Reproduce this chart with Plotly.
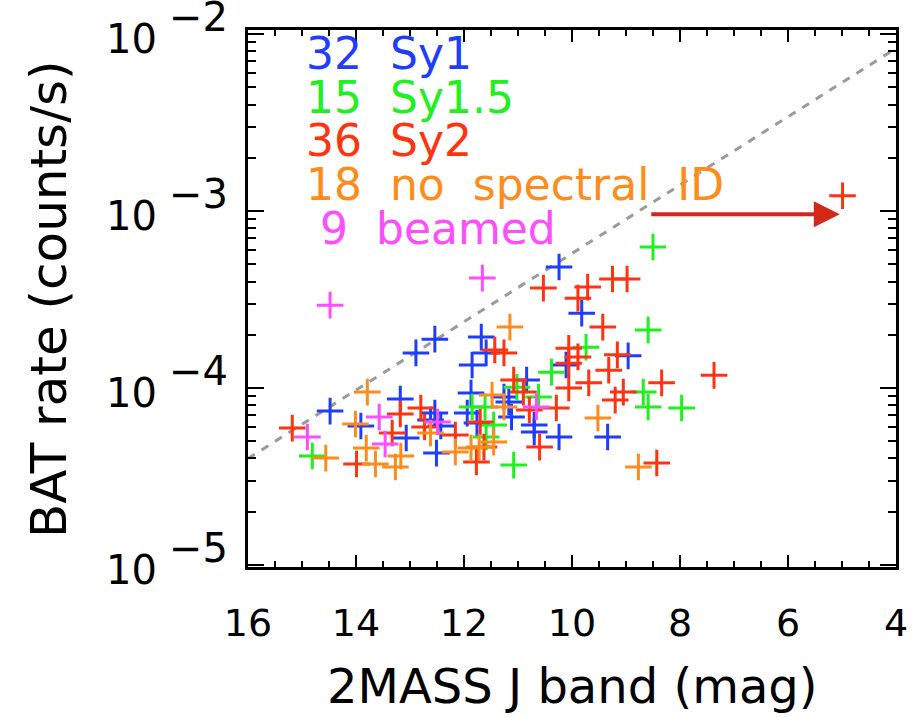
import numpy as np
import plotly.graph_objects as go

# ---------------- data (J mag, BAT rate counts/s) ----------------
sy1_mag = [10.24, 12.89, 12.54, 14.48, 13.18, 13.91, 13.07, 12.54, 12.62, 12.43,
           12.51, 11.85, 11.68, 11.59, 11.87, 11.94, 11.76, 11.26, 11.17, 10.84,
           11.12, 10.11, 10.70, 10.70, 10.24, 9.82, 8.96, 9.34]
sy1_rate = [4.83e-4, 1.58e-4, 1.89e-4, 7.41e-5, 8.67e-5, 6.10e-5, 5.22e-5, 7.22e-5, 6.59e-5, 6.10e-5,
            4.29e-5, 1.35e-4, 1.94e-4, 1.58e-4, 9.37e-5, 7.22e-5, 6.34e-5, 8.90e-5, 8.34e-5, 1.11e-4,
            6.86e-5, 1.35e-4, 6.18e-5, 5.64e-5, 5.29e-5, 2.65e-4, 1.52e-4, 5.29e-5]

sy15_mag = [8.50, 14.81, 11.85, 11.61, 11.02, 10.62, 10.38, 11.45, 11.59, 11.08,
            8.59, 9.74, 8.68, 8.59, 7.97]
sy15_rate = [6.26e-4, 4.13e-5, 7.81e-5, 7.81e-5, 1.01e-4, 8.90e-5, 1.23e-4, 6.18e-5, 5.29e-5, 3.67e-5,
             2.13e-4, 1.70e-4, 9.49e-5, 7.81e-5, 7.71e-5]

sy2_mag = [4.99, 10.53, 15.18, 13.99, 13.18, 12.80, 13.33, 12.73, 12.16, 11.43,
           11.26, 11.70, 11.08, 10.90, 10.79, 10.29, 10.06, 10.06, 10.06, 10.60,
           11.63, 11.77, 9.71, 9.89, 9.25, 8.98, 9.43, 9.89, 9.16, 9.32,
           9.69, 7.37, 8.34, 9.05, 9.20, 8.43]
sy2_rate = [1.22e-3, 3.67e-4, 5.94e-5, 3.72e-5, 7.13e-5, 7.71e-5, 5.57e-5, 6.02e-5, 5.43e-5, 1.64e-4,
            1.58e-4, 6.43e-5, 1.11e-4, 9.49e-5, 7.51e-5, 7.71e-5, 1.00e-4, 1.38e-4, 1.68e-4, 4.64e-5,
            4.64e-5, 3.82e-5, 3.72e-4, 3.22e-4, 4.13e-4, 4.13e-4, 2.21e-4, 1.50e-4, 1.54e-4, 1.26e-4,
            1.07e-4, 1.18e-4, 1.07e-4, 9.49e-5, 8.55e-5, 3.77e-5]

noid_mag = [13.79, 14.56, 14.01, 13.81, 13.64, 13.17, 13.27, 12.62, 12.16, 11.15,
            11.48, 11.26, 11.72, 11.45, 9.52, 8.77, 11.87]
noid_rate = [9.49e-5, 4.02e-5, 6.26e-5, 4.58e-5, 3.72e-5, 4.13e-5, 3.58e-5, 5.57e-5, 4.35e-5, 2.21e-4,
             9.13e-5, 7.81e-5, 4.64e-5, 4.95e-5, 6.77e-5, 3.58e-5, 4.58e-5]

beam_mag = [14.48, 11.66, 14.90, 13.57, 13.46, 12.49, 10.66]
beam_rate = [2.94e-4, 4.18e-4, 5.29e-5, 6.86e-5, 4.83e-5, 6.43e-5, 7.81e-5]

line_mag = [16.0, 4.0]
line_rate = [4.0e-5, 8.3e-3]

arrow_mag = [8.56, 5.04]
arrow_rate = 9.6e-4

legend_labels = ["32  Sy1", "15  Sy1.5", "36  Sy2", "18  no  spectral  ID", " 9  beamed"]

x_ticks = [16, 14, 12, 10, 8, 6, 4]
y_ticks = [1e-5, 1e-4, 1e-3, 1e-2]
y_tick_exp = ["−5", "−4", "−3", "−2"]

# ---------------- styles ----------------
C_SY1 = "#1f3dff"
C_SY15 = "#1ff01f"
C_SY2 = "#ff3310"
C_NOID = "#ff8c1a"
C_BEAM = "#ff4cff"
C_ARROW = "#d2281a"
FONT = "DejaVu Sans"

L, R, T, B = 248, 16, 30, 150
W, H = 920, 717
PW, PH = W - L - R, H - T - B


def px_x(p):  # pixel -> paper x
    return (p - L) / PW


def px_y(p):  # pixel -> paper y
    return (H - B - p) / PH


fig = go.Figure()

fig.add_trace(go.Scatter(x=line_mag, y=line_rate, mode="lines",
                         line=dict(color="#9a9a9a", width=3, dash="8px,8px"),
                         hoverinfo="skip", showlegend=False))

series = [(sy1_mag, sy1_rate, C_SY1), (sy15_mag, sy15_rate, C_SY15),
          (sy2_mag, sy2_rate, C_SY2), (noid_mag, noid_rate, C_NOID),
          (beam_mag, beam_rate, C_BEAM)]
for mx, ry, col in series:
    fig.add_trace(go.Scatter(x=mx, y=ry, mode="markers",
                             marker=dict(symbol="cross-thin", size=19,
                                         line=dict(width=3, color=col), color=col),
                             showlegend=False))

# arrow
fig.add_annotation(x=arrow_mag[1], y=np.log10(arrow_rate), ax=arrow_mag[0], ay=np.log10(arrow_rate),
                   xref="x", yref="y", axref="x", ayref="y", text="", showarrow=True,
                   arrowhead=2, arrowsize=1.3, arrowwidth=4, arrowcolor=C_ARROW)

# legend text
leg_cols = [C_SY1, C_SY15, C_SY2, C_NOID, C_BEAM]
leg_y = [54, 97, 141, 184, 228]
for lab, col, py in zip(legend_labels, leg_cols, leg_y):
    fig.add_annotation(x=px_x(305), y=px_y(py), xref="paper", yref="paper",
                       text=lab.replace(" ", "&nbsp;"), showarrow=False, xanchor="left", yanchor="middle",
                       font=dict(family=FONT, size=44, color=col))

# y tick labels: 10 with full-size raised exponent
for v, e in zip(y_ticks, y_tick_exp):
    fig.add_annotation(x=px_x(158), y=np.log10(v), xref="paper", yref="y", text="10",
                       showarrow=False, xanchor="right", yanchor="middle", yshift=-5,
                       font=dict(family=FONT, size=40, color="black"))
    fig.add_annotation(x=px_x(166), y=np.log10(v), xref="paper", yref="y", text=e,
                       showarrow=False, xanchor="left", yanchor="middle", yshift=17,
                       font=dict(family=FONT, size=40, color="black"))

# axis titles
fig.add_annotation(x=0.5, y=px_y(686), xref="paper", yref="paper", text="2MASS J band (mag)",
                   showarrow=False, xanchor="center", yanchor="middle",
                   font=dict(family=FONT, size=48, color="black"))
fig.add_annotation(x=px_x(46), y=0.5, xref="paper", yref="paper", text="BAT rate (counts/s)",
                   showarrow=False, xanchor="center", yanchor="middle", textangle=-90,
                   font=dict(family=FONT, size=50, color="black"))

fig.update_layout(
    width=W, height=H,
    margin=dict(l=L, r=R, t=T, b=B),
    paper_bgcolor="white", plot_bgcolor="white",
    font=dict(family=FONT, color="black", size=36),
    xaxis=dict(range=[16, 4], tickvals=x_ticks, ticks="inside", ticklen=12, tickwidth=2,
               tickcolor="black", showline=True, linewidth=3, linecolor="black", mirror="ticks",
               showgrid=False, zeroline=False,
               minor=dict(dtick=0.5, ticks="inside", ticklen=6, tickwidth=2, tickcolor="black", showgrid=False),
               tickfont=dict(family=FONT, size=38), ticklabelstandoff=20),
    yaxis=dict(type="log", range=[-5.011, -1.977], tickvals=y_ticks, showticklabels=False,
               ticks="inside", ticklen=16, tickwidth=2, tickcolor="black",
               showline=True, linewidth=3, linecolor="black", mirror="ticks",
               showgrid=False, zeroline=False,
               minor=dict(dtick="D1", ticks="inside", ticklen=8, tickwidth=2, tickcolor="black", showgrid=False)),
)

fig.write_html("out.html")
